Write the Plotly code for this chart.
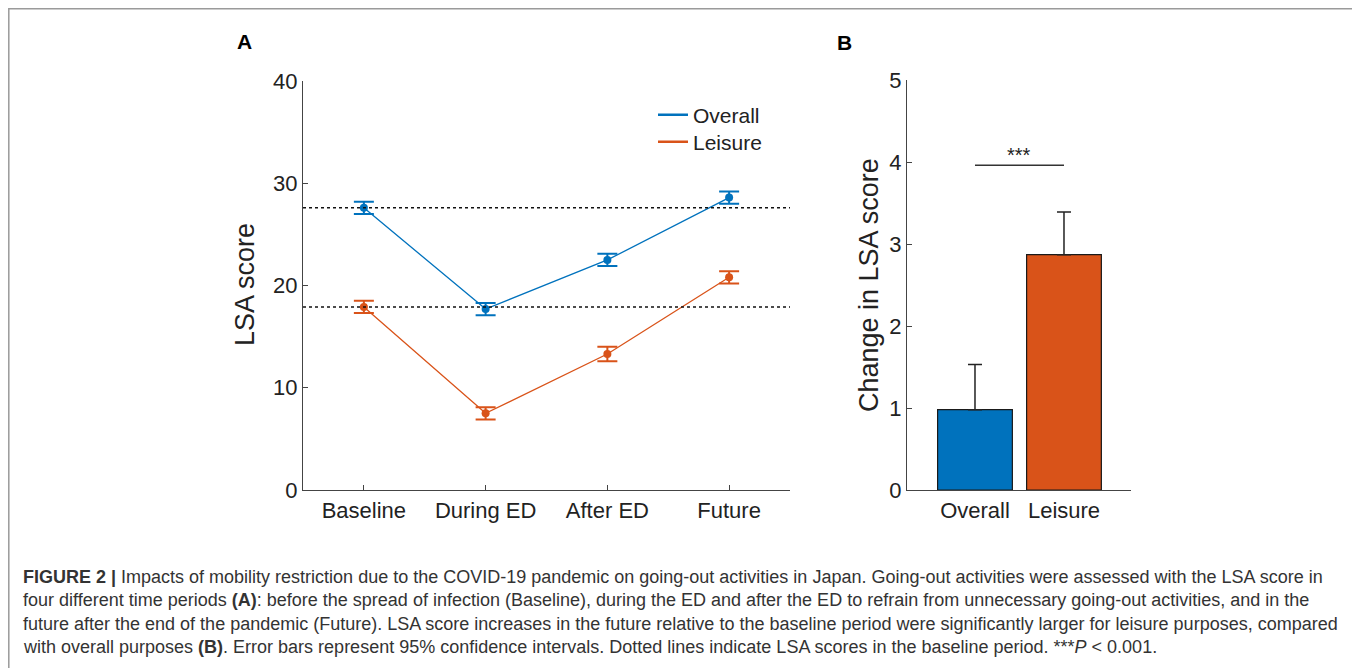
import plotly.graph_objects as go

# ---------------- data ----------------
periods = ["Baseline", "During ED", "After ED", "Future"]
overall_mean = [27.6, 17.7, 22.5, 28.6]
overall_ci = [0.6, 0.6, 0.6, 0.6]
leisure_mean = [17.9, 7.5, 13.3, 20.8]
leisure_ci = [0.6, 0.6, 0.7, 0.6]

groups = ["Overall", "Leisure"]
change_mean = [0.98, 2.87]
change_ci = [0.55, 0.52]
sig_y = 3.96
sig_label = "***"

yticks_a = [0, 10, 20, 30, 40]
yticks_b = [0, 1, 2, 3, 4, 5]

caption_lines = [
    "<b>FIGURE 2 |</b> Impacts of mobility restriction due to the COVID-19 pandemic on going-out activities in Japan. Going-out activities were assessed with the LSA score in",
    "four different time periods <b>(A)</b>: before the spread of infection (Baseline), during the ED and after the ED to refrain from unnecessary going-out activities, and in the",
    "future after the end of the pandemic (Future). LSA score increases in the future relative to the baseline period were significantly larger for leisure purposes, compared",
    "with overall purposes <b>(B)</b>. Error bars represent 95% confidence intervals. Dotted lines indicate LSA scores in the baseline period. ***<i>P</i> &lt; 0.001.",
]

BLUE = "#0072BD"
ORANGE = "#D95319"
AX = "#444444"
TXT = "#222222"
FONT = "Liberation Sans, Arial, sans-serif"

W, H = 1360, 668
OFF = 8  # page body margin offset
def px(x):
    return (x - OFF) / W
def py(y):
    return 1 - (y - OFF) / H

fig = go.Figure()
xi = list(range(len(periods)))

for name, mean, ci, col, lg in [("Overall", overall_mean, overall_ci, BLUE, "legend"),
                                ("Leisure", leisure_mean, leisure_ci, ORANGE, "legend2")]:
    fig.add_trace(go.Scatter(
        x=xi, y=mean, mode="lines+markers", name=name, showlegend=False,
        line=dict(color=col, width=1.3),
        marker=dict(color=col, size=8),
        error_y=dict(type="data", array=ci, color=col, thickness=2, width=10),
        xaxis="x", yaxis="y"))
    # legend-only entry (short line)
    fig.add_trace(go.Scatter(
        x=[None], y=[None], mode="lines", name=name, showlegend=True, legend=lg,
        line=dict(color=col, width=2.5), xaxis="x", yaxis="y"))

# baseline dotted lines
for v in [overall_mean[0], leisure_mean[0]]:
    fig.add_shape(type="line", xref="x domain", yref="y", x0=0, x1=1, y0=v, y1=v,
                  line=dict(color="#111111", width=1.5, dash="dot"))

# Panel B bars
fig.add_trace(go.Bar(
    x=[0, 1], y=change_mean, width=0.84, showlegend=False,
    marker=dict(color=[BLUE, ORANGE], line=dict(color="#1a1a1a", width=1.2)),
    error_y=dict(type="data", symmetric=False, array=change_ci,
                 arrayminus=[0, 0], color="#222222", thickness=1.5, width=7),
    xaxis="x2", yaxis="y2"))

fig.add_shape(type="line", xref="x2", yref="y2", x0=0, x1=1, y0=sig_y, y1=sig_y,
              line=dict(color="#333333", width=1.5))
fig.add_annotation(x=0.5, y=sig_y, xref="x2", yref="y2", text=sig_label,
                   showarrow=False, xanchor="center", yanchor="bottom", yshift=-3,
                   font=dict(size=20, color=TXT, family=FONT))

axis_common = dict(showline=True, linecolor=AX, linewidth=1.3, ticks="inside",
                   ticklen=5, tickcolor=AX, showgrid=False, zeroline=False,
                   automargin=False,
                   tickfont=dict(size=22, color=TXT, family=FONT))

legend_common = dict(xanchor="left", yanchor="middle", bgcolor="rgba(0,0,0,0)",
                     font=dict(size=21, color=TXT, family=FONT), itemwidth=30)

fig.update_layout(
    width=W, height=H,
    margin=dict(l=0, r=0, t=0, b=0, pad=0, autoexpand=False),
    paper_bgcolor="white", plot_bgcolor="white",
    xaxis=dict(domain=[px(303), px(790)], range=[-0.5, 3.5], tickmode="array",
               tickvals=xi, ticktext=periods, anchor="y", **axis_common),
    yaxis=dict(domain=[py(490), py(81)], range=[0, 40], tickmode="array",
               tickvals=yticks_a, anchor="x", **axis_common),
    xaxis2=dict(domain=[px(907), px(1131)], range=[-0.764, 1.753], tickmode="array",
                tickvals=[0, 1], ticktext=groups, anchor="y2",
                **{**axis_common, "ticks": ""}),
    yaxis2=dict(domain=[py(490), py(80)], range=[0, 5], tickmode="array",
                tickvals=yticks_b, anchor="x2", **axis_common),
    legend=dict(x=px(653), y=py(115), **legend_common),
    legend2=dict(x=px(653), y=py(142), **legend_common),
    showlegend=True,
)

# axis titles and panel labels
fig.add_annotation(x=px(245), y=py(285), xref="paper", yref="paper", text="LSA score",
                   textangle=-90, showarrow=False, xanchor="center", yanchor="middle",
                   font=dict(size=27, color=TXT, family=FONT))
fig.add_annotation(x=px(869), y=py(285), xref="paper", yref="paper",
                   text="Change in LSA score", textangle=-90, showarrow=False,
                   xanchor="center", yanchor="middle",
                   font=dict(size=27, color=TXT, family=FONT))
fig.add_annotation(x=px(244), y=py(41), xref="paper", yref="paper", text="<b>A</b>",
                   showarrow=False, xanchor="center", yanchor="middle",
                   font=dict(size=21, color="#000000", family=FONT))
fig.add_annotation(x=px(844), y=py(42), xref="paper", yref="paper", text="<b>B</b>",
                   showarrow=False, xanchor="center", yanchor="middle",
                   font=dict(size=21, color="#000000", family=FONT))

# caption
for i, line in enumerate(caption_lines):
    fig.add_annotation(x=px(21), y=py(577 + 23.3 * i), xref="paper", yref="paper",
                       text=line, xanchor="left", yanchor="middle", showarrow=False,
                       font=dict(size=18.0, color="#333333", family=FONT))

# outer frame
fig.add_shape(type="rect", xref="paper", yref="paper", x0=px(8.8), x1=px(1355),
              y0=-0.05, y1=py(8.8), line=dict(color="#9a9a9a", width=1.5))

fig.write_html("out.html")
